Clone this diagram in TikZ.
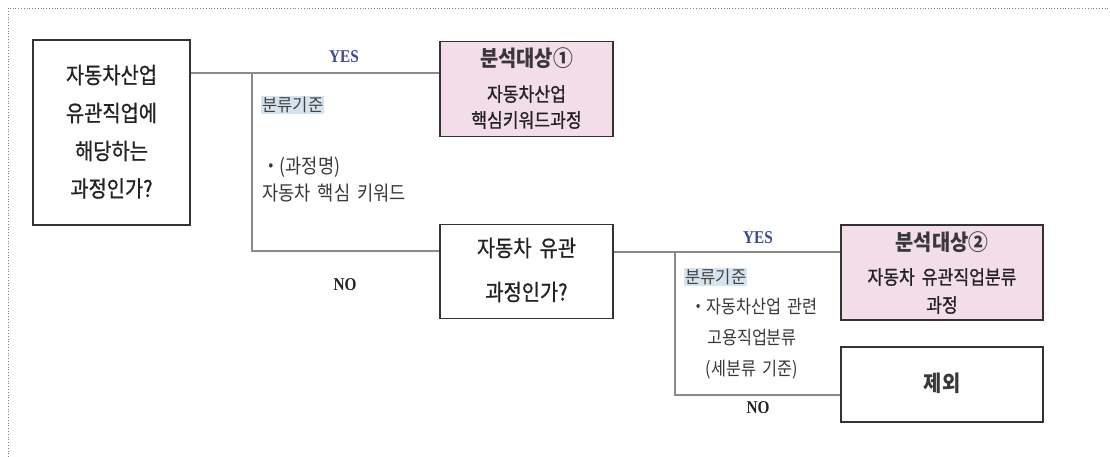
\documentclass[tikz,border=0pt]{standalone}
\usepackage{fontspec}
\setmainfont{Noto Sans CJK KR}[FakeStretch=0.88,WordSpace=1.8]
\newfontfamily\medfont{Noto Sans CJK KR}[FakeStretch=0.88,WordSpace=1.8,FakeBold=0.8]
\newfontfamily\headfont{Noto Sans CJK KR}[FakeStretch=0.9]
\newfontfamily\critfont{Noto Sans CJK KR}[FakeStretch=0.95]
\newfontfamily\yesfont{Liberation Serif}[FakeStretch=0.85]
\definecolor{pinkfill}{HTML}{F2DDE8}
\definecolor{hl}{HTML}{D6E4F0}
\definecolor{yesblue}{HTML}{3A4896}
\definecolor{linegray}{HTML}{8A8A8A}
\definecolor{boxline}{HTML}{333333}
\definecolor{txt}{HTML}{222222}
\begin{document}
\begin{tikzpicture}[x=1pt,y=-1pt]
\tikzset{
  box/.style={draw=boxline,line width=1.3pt,minimum width=#1,inner sep=0pt},
  conn/.style={draw=linegray,line width=1.1pt},
  big/.style={font=\medfont\fontsize{22.5}{26}\selectfont,text=txt,inner sep=0pt},
  head/.style={font=\headfont\bfseries\fontsize{22}{25}\selectfont,text=txt!90,inner sep=0pt},
  mid/.style={font=\medfont\fontsize{19.5}{23}\selectfont,text=txt,inner sep=0pt},
  small/.style={font=\fontsize{20}{22}\selectfont,text=txt!90,inner sep=0pt,anchor=west},
  rsmall/.style={font=\fontsize{18.5}{21}\selectfont,text=txt!90,inner sep=0pt},
  crit/.style={font=\critfont\fontsize{17.5}{20}\selectfont,text=txt!85,fill=hl,inner sep=1pt,anchor=west},
  yes/.style={font=\yesfont\bfseries\fontsize{18}{20}\selectfont,text=yesblue,inner sep=0pt},
  no/.style={font=\yesfont\bfseries\fontsize{18}{20}\selectfont,text=txt,inner sep=0pt},
}
\useasboundingbox (0,0) rectangle (1110,457);
% dotted frame
\coordinate (fTL) at (8,8);
\coordinate (fTR) at (1110,8);
\coordinate (fBL) at (8,457);
\draw[gray,dotted,line width=0.8pt] (fBL) -- (fTL) -- (fTR);
% boxes
\node[box=157pt,minimum height=185pt] (A) at (111.5,132.5) {};
\node[box=173pt,minimum height=95pt,fill=pinkfill] (B1) at (526.5,89) {};
\node[box=173pt,minimum height=94pt] (C) at (526.5,271.5) {};
\node[box=202pt,minimum height=95pt,fill=pinkfill] (B2) at (942,272.5) {};
\node[box=202pt,minimum height=75pt] (D) at (942,384.5) {};
% box texts
\node[big] (a1) at (111.5,75) {자동차산업};
\node[big] (a2) at (111.5,113) {유관직업에};
\node[big] (a3) at (111.5,151) {해당하는};
\node[big] (a4) at (111.5,188.5) {과정인가?};
\node[head] (b11) at (526.5,58) {분석대상①};
\node[mid] (b12) at (526.5,94) {자동차산업};
\node[mid] (b13) at (526.5,120) {핵심키워드과정};
\node[big] (c1) at (526.5,248) {자동차 유관};
\node[big] (c2) at (526.5,292) {과정인가?};
\node[head] (b21) at (942,242) {분석대상②};
\node[mid] (b22) at (942,277) {자동차 유관직업분류};
\node[mid] (b23) at (942,305) {과정};
\node[head] (d1) at (942,383) {제외};
% connectors
\coordinate (j1) at (252,73);
\coordinate (j1b) at (252,251);
\draw[conn] (A.east |- j1) -- (B1.west |- j1);
\draw[conn] (j1) -- (j1b) -- (C.west |- j1b);
\coordinate (j2) at (675,252);
\coordinate (j2b) at (675,395);
\draw[conn] (C.east |- j2) -- (B2.west |- j2);
\draw[conn] (j2) -- (j2b) -- (D.west |- j2b);
% labels
\node[yes] (yes1) at (344,57) {YES};
\node[no] (no1) at (345,285) {NO};
\node[yes] (yes2) at (758,238) {YES};
\node[no] (no2) at (758,408) {NO};
\node[crit] (k1) at (261,105) {분류기준};
\node[small] (k1a) at (262,167) {・(과정명)};
\node[small] (k1b) at (262,193) {자동차 핵심 키워드};
\node[crit] (k2) at (684,277) {분류기준};
\node[rsmall,anchor=west] (k2a) at (690,307) {・자동차산업 관련};
\node[rsmall] (k2b) at (752,338) {고용직업분류};
\node[rsmall] (k2c) at (752,370) {(세분류 기준)};
\end{tikzpicture}
\end{document}
